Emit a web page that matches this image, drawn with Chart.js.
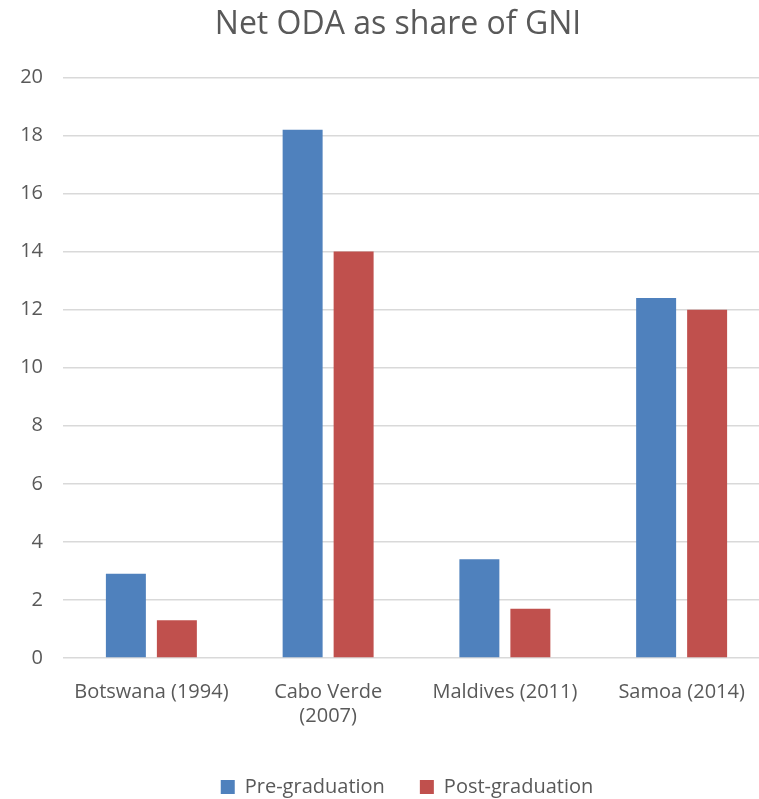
<!DOCTYPE html>
<html>
<head>
<meta charset="utf-8">
<title>Net ODA as share of GNI</title>
<script src="https://cdn.jsdelivr.net/npm/chart.js@4/dist/chart.umd.min.js"></script>
<style>
  html, body { margin: 0; padding: 0; background: #fff; overflow: hidden; }
  #wrap { width: 800px; height: 807px; }
</style>
</head>
<body>
<div id="wrap"><canvas id="odaChart"></canvas></div>
<script>
// Dados do gráfico
const paises = ['Botswana (1994)', ['Cabo Verde', '(2007)'], 'Maldives (2011)', 'Samoa (2014)'];
const preGraduacao = [2.9, 18.2, 3.4, 12.4];
const posGraduacao = [1.3, 14.0, 1.7, 12.0];
const rotulosSeries = ['Pre-graduation', 'Post-graduation'];

const corTexto = '#595959';
const fonte = "'Open Sans', 'DejaVu Sans', sans-serif";

// O eixo Y é mais estreito que os rótulos; alarga a área de recorte dele depois do layout
// e empurra a legenda um pouco para a direita
const ajustesLayout = {
    id: 'ajustesLayout',
    afterLayout(chart) {
        chart.scales.y.left = 0;
        chart.legend.left += 9;
        chart.legend.right += 9;
    }
};

new Chart(document.getElementById('odaChart').getContext('2d'), {
    type: 'bar',
    data: {
        labels: paises,
        datasets: [
            {
                label: rotulosSeries[0],
                data: preGraduacao,
                backgroundColor: '#4F81BD',
                barPercentage: 0.784,
                categoryPercentage: 0.577
            },
            {
                label: rotulosSeries[1],
                data: posGraduacao,
                backgroundColor: '#C0504D',
                barPercentage: 0.784,
                categoryPercentage: 0.577
            }
        ]
    },
    options: {
        responsive: true,
        maintainAspectRatio: false,
        animation: false,
        layout: { padding: { left: 26, right: 30, top: 6, bottom: 0 } },
        plugins: {
            title: {
                display: true,
                text: 'Net ODA as share of GNI',
                color: corTexto,
                font: { family: fonte, size: 32, weight: 'normal' },
                padding: { top: 0, bottom: 33 }
            },
            legend: {
                position: 'bottom',
                labels: {
                    color: corTexto,
                    font: { family: fonte, size: 20 },
                    usePointStyle: true,
                    pointStyle: 'rect',
                    boxWidth: 14,
                    boxHeight: 14,
                    padding: 35
                }
            },
            tooltip: { enabled: false }
        },
        scales: {
            x: {
                grid: { display: false },
                border: { display: false },
                ticks: {
                    color: corTexto,
                    font: { family: fonte, size: 20 },
                    padding: 14,
                    maxRotation: 0,
                    autoSkip: false
                }
            },
            y: {
                min: 0,
                max: 20,
                afterFit: function(escala) { escala.width = 37; },
                grid: { color: '#D9D9D9', lineWidth: 1.5, drawTicks: false },
                border: { display: false },
                ticks: {
                    stepSize: 2,
                    color: corTexto,
                    font: { family: fonte, size: 20 },
                    padding: 20
                }
            }
        }
    },
    plugins: [ajustesLayout]
});
</script>
</body>
</html>
